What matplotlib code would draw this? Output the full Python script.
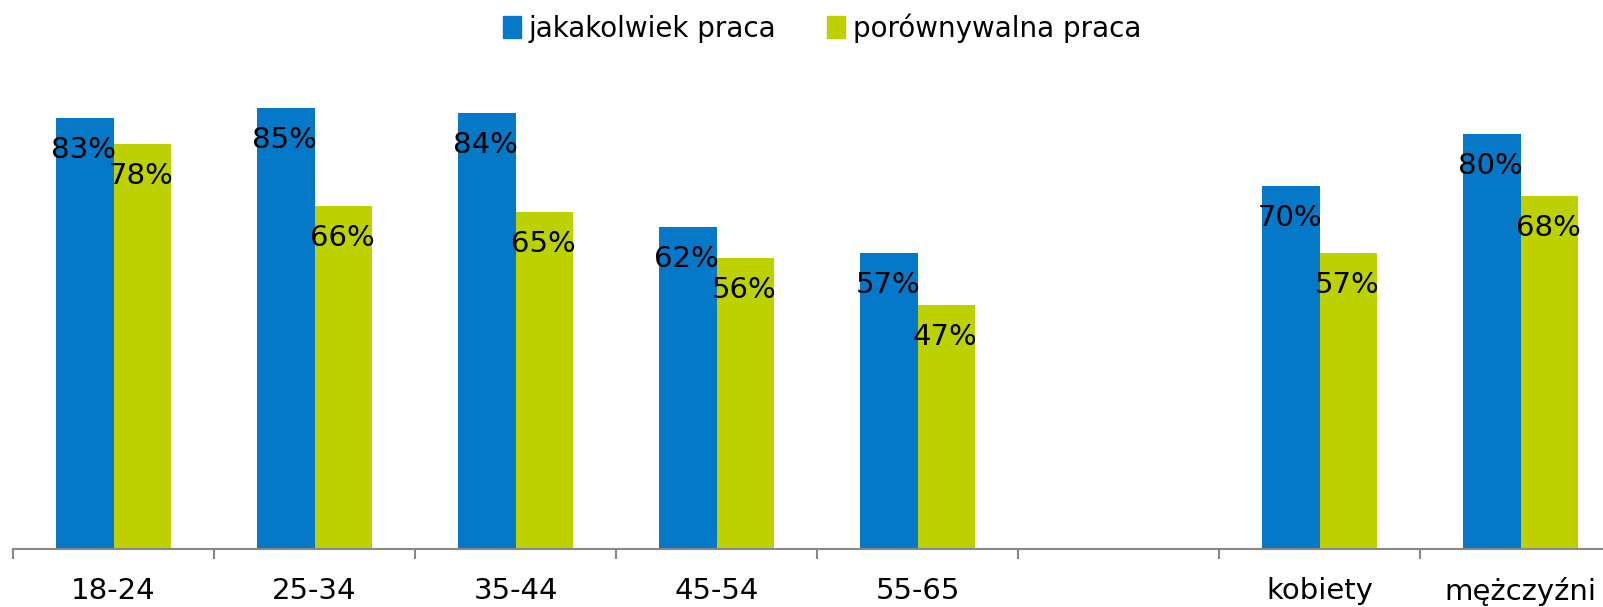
import matplotlib.pyplot as plt
from matplotlib.patches import Patch
import numpy as np

categories = ['18-24', '25-34', '35-44', '45-54', '55-65', '', 'kobiety', 'mężczyźni']
jakakolwiek = [83, 85, 84, 62, 57, None, 70, 80]
porownywalna = [78, 66, 65, 56, 47, None, 57, 68]
series_names = ['jakakolwiek praca', 'porównywalna praca']

blue = '#0579C7'
green = '#BDD100'
W, H = 1603, 607

fig = plt.figure(figsize=(W / 100, H / 100), dpi=100)
# axes spans 8 category slots of ~201 px, running past the right edge like the original
ax = fig.add_axes([13 / W, 58 / H, 8 * 201 / W, 519 / H])

x = np.arange(len(categories))
bw = 0.286
for i in range(len(categories)):
    if jakakolwiek[i] is None:
        continue
    ax.bar(x[i] - bw / 2, jakakolwiek[i], bw, color=blue)
    ax.bar(x[i] + bw / 2, porownywalna[i], bw, color=green)
    for xx, v in ((x[i] - bw / 2, jakakolwiek[i]), (x[i] + bw / 2, porownywalna[i])):
        ax.annotate(f'{v}%', (xx, v), xytext=(-1, -32), textcoords='offset pixels',
                    ha='center', va='center', fontsize=21, color='black')

ax.set_xlim(-0.5, len(categories) - 0.5)
ax.set_ylim(0, 100)
ax.set_yticks([])
for s in ['top', 'right', 'left']:
    ax.spines[s].set_visible(False)
ax.spines['bottom'].set_color('#888888')
ax.spines['bottom'].set_linewidth(1.5)

ax.set_xticks(x)
ax.set_xticklabels(categories, fontsize=21)
ax.tick_params(axis='x', which='major', length=0, pad=20)
ax.set_xticks(np.arange(len(categories) + 1) - 0.5, minor=True)
ax.tick_params(axis='x', which='minor', length=7, width=1.5, color='#888888')

handles = [Patch(color=blue), Patch(color=green)]
fig.legend(handles, series_names, loc='center', bbox_to_anchor=(822 / W, 1 - 28 / H),
           ncol=2, frameon=False, fontsize=20, handletextpad=0.3, columnspacing=1.8,
           handlelength=0.65, handleheight=0.85)

fig.savefig('out.png', dpi=100)
